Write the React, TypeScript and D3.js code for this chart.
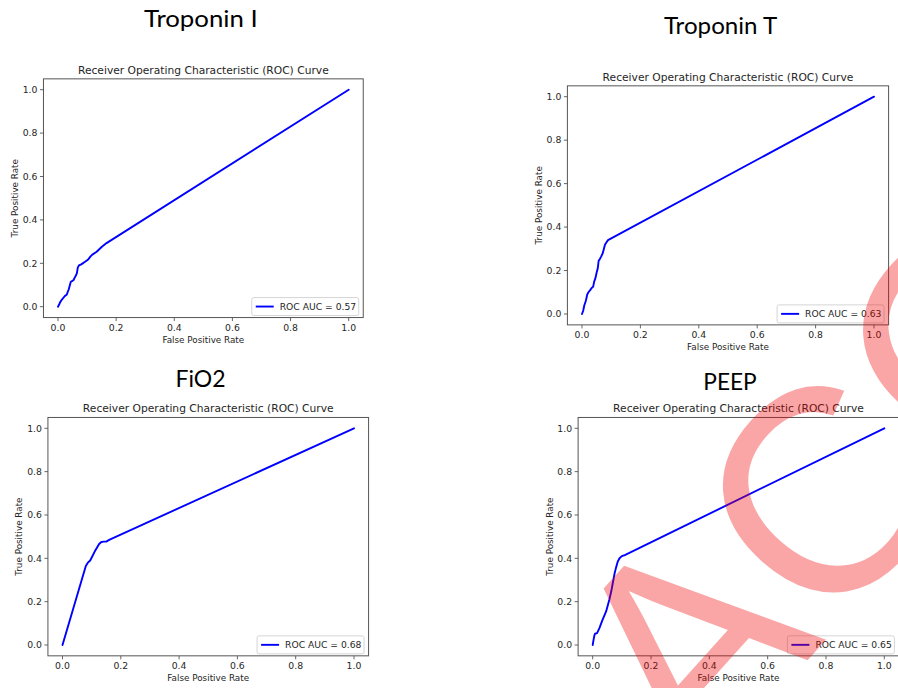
import React from "react";
import * as d3 from "d3";

// ---------- data ----------
const panelNames = ["Troponin I", "Troponin T", "FiO2", "PEEP"];
const aucValues = [0.57, 0.63, 0.68, 0.65];
const tickValues = [0, 0.2, 0.4, 0.6, 0.8, 1.0];
const plotTitle = "Receiver Operating Characteristic (ROC) Curve";
const xLabel = "False Positive Rate";
const yLabel = "True Positive Rate";

const tropIFpr = [0, 0.004, 0.007, 0.012, 0.018, 0.024, 0.03, 0.034, 0.037, 0.041, 0.044, 0.048, 0.053, 0.058, 0.062, 0.065, 0.068, 0.072, 0.08, 0.093, 0.104, 0.112, 0.118, 0.133, 0.15, 0.167, 1.0];
const tropITpr = [0, 0.01, 0.02, 0.03, 0.04, 0.05, 0.055, 0.07, 0.08, 0.1, 0.115, 0.118, 0.122, 0.135, 0.145, 0.155, 0.18, 0.19, 0.195, 0.207, 0.218, 0.232, 0.24, 0.253, 0.275, 0.293, 1.0];

const tropTFpr = [0, 0.004, 0.008, 0.013, 0.018, 0.022, 0.028, 0.033, 0.038, 0.042, 0.046, 0.05, 0.054, 0.057, 0.06, 0.066, 0.071, 0.075, 0.079, 0.084, 0.089, 1.0];
const tropTTpr = [0, 0.015, 0.04, 0.06, 0.09, 0.1, 0.11, 0.12, 0.125, 0.15, 0.165, 0.19, 0.21, 0.245, 0.25, 0.265, 0.28, 0.3, 0.32, 0.33, 0.34, 1.0];

const fio2Fpr = [0, 0.08, 0.087, 0.095, 0.11, 0.125, 0.132, 0.14, 0.15, 0.16, 1.0];
const fio2Tpr = [0, 0.365, 0.38, 0.39, 0.43, 0.465, 0.474, 0.477, 0.477, 0.485, 1.0];

const peepFpr = [0, 0.003, 0.006, 0.008, 0.015, 0.023, 0.034, 0.046, 0.057, 0.064, 0.069, 0.075, 0.08, 0.086, 0.092, 0.1, 0.11, 1.0];
const peepTpr = [0, 0.025, 0.045, 0.052, 0.055, 0.078, 0.117, 0.155, 0.209, 0.25, 0.286, 0.33, 0.357, 0.385, 0.4, 0.41, 0.415, 1.0];

const watermarkText = "ACCEPTED";

// ---------- layout ----------
// pixel positions of data 0 and 1 on each axis
const layouts = [
  { x0: 58, x1: 348.7, y0: 306.7, y1: 89.7, tx: 144, tb: 27.3, tw: 113.7 },
  { x0: 582, x1: 874, y0: 314, y1: 96.7, tx: 664, tb: 34, tw: 113.3 },
  { x0: 62.5, x1: 354, y0: 645, y1: 428.3, tx: 175.5, tb: 386.5, tw: 50 },
  { x0: 592.7, x1: 884.3, y0: 645, y1: 428.3, tx: 703.3, tb: 389.5, tw: 53.4 },
];

const series = [
  [tropIFpr, tropITpr],
  [tropTFpr, tropTTpr],
  [fio2Fpr, fio2Tpr],
  [peepFpr, peepTpr],
];

const FONT = "'DejaVu Sans', sans-serif";
const TXT = "#262626";

function Panel({ idx }: { idx: number }) {
  const L = layouts[idx];
  const x = d3.scaleLinear().domain([0, 1]).range([L.x0, L.x1]);
  const y = d3.scaleLinear().domain([0, 1]).range([L.y0, L.y1]);
  const left = x(-0.05), right = x(1.05), top = y(1.05), bottom = y(-0.05);
  const [fpr, tpr] = series[idx];
  const pts: [number, number][] = fpr.map((f, i) => [f, tpr[i]]);
  const line = d3.line<[number, number]>().x((d) => x(d[0])).y((d) => y(d[1]));
  const fmt = d3.format(".1f");
  const cx = (left + right) / 2;
  const cy = (top + bottom) / 2;
  const legW = 107, legH = 18;
  const legR = right - 4.5, legB = bottom - 2;
  const legL = legR - legW, legT = legB - legH;
  return (
    <g>
      <text x={L.tx} y={L.tb} fontFamily="Lato, 'Open Sans', sans-serif" fontSize={24} fill="#000"
        textLength={L.tw} lengthAdjust="spacingAndGlyphs">{panelNames[idx]}</text>
      <text x={cx} y={top - 5} textAnchor="middle" fontFamily={FONT} fontSize={10.7} fill={TXT}>{plotTitle}</text>
      <rect x={left} y={top} width={right - left} height={bottom - top} fill="#fff" stroke="#555" strokeWidth={1} />
      {tickValues.map((t) => (
        <g key={"x" + t}>
          <line x1={x(t)} x2={x(t)} y1={bottom} y2={bottom + 3.5} stroke="#555" strokeWidth={0.9} />
          <text x={x(t)} y={bottom + 13.5} textAnchor="middle" fontFamily={FONT} fontSize={9.3} fill={TXT}>{fmt(t)}</text>
        </g>
      ))}
      {tickValues.map((t) => (
        <g key={"y" + t}>
          <line x1={left - 3.5} x2={left} y1={y(t)} y2={y(t)} stroke="#555" strokeWidth={0.9} />
          <text x={left - 6} y={y(t)} dy="0.35em" textAnchor="end" fontFamily={FONT} fontSize={9.3} fill={TXT}>{fmt(t)}</text>
        </g>
      ))}
      <text x={cx} y={bottom + 25.5} textAnchor="middle" fontFamily={FONT} fontSize={8.8} fill={TXT}>{xLabel}</text>
      <text transform={`translate(${left - 25.5},${cy}) rotate(-90)`} textAnchor="middle" fontFamily={FONT} fontSize={8.8} fill={TXT}>{yLabel}</text>
      <path d={line(pts) || ""} fill="none" stroke="#0000ff" strokeWidth={1.9} strokeLinejoin="round" strokeLinecap="round" />
      <rect x={legL} y={legT} width={legW} height={legH} rx={2} fill="#fff" fillOpacity={0.8} stroke="#d0d0d0" strokeWidth={0.9} />
      <line x1={legL + 4} x2={legL + 22} y1={legT + legH / 2} y2={legT + legH / 2} stroke="#0000ff" strokeWidth={1.9} />
      <text x={legL + 28} y={legT + legH / 2} dy="0.35em" fontFamily={FONT} fontSize={9.2} fill={TXT}>{`ROC AUC = ${aucValues[idx].toFixed(2)}`}</text>
    </g>
  );
}

export default function App() {
  return (
    <svg width={898} height={688} style={{ position: "absolute", left: 0, top: 0, background: "#fff" }}>
      <rect x={0} y={0} width={898} height={688} fill="#fff" />
      {panelNames.map((_, i) => (
        <Panel key={i} idx={i} />
      ))}
      <text transform="translate(697,783) rotate(-48)" fontFamily="'Liberation Sans', Arial, sans-serif" fontSize={290}
        fill="rgb(240,0,0)" fillOpacity={0.35}>{watermarkText}</text>
    </svg>
  );
}
